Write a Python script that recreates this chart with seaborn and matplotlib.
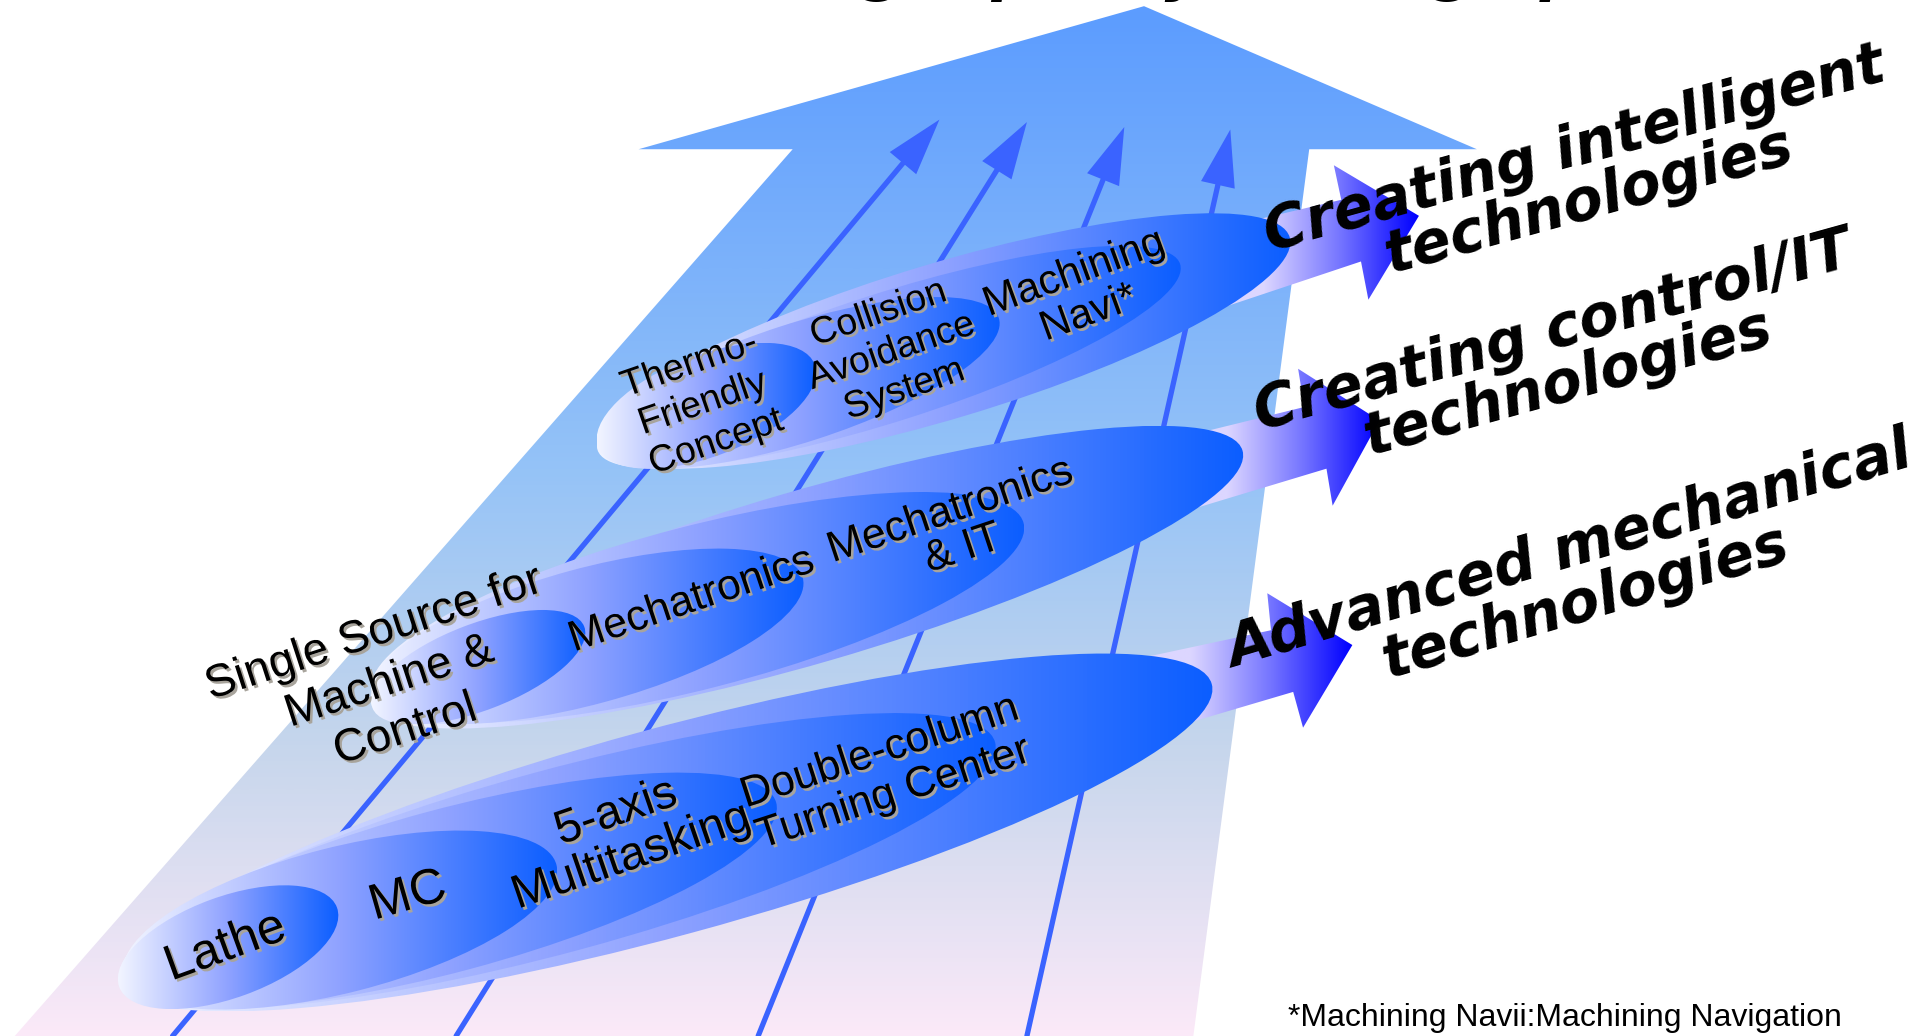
import numpy as np
import pandas as pd
import matplotlib
matplotlib.use("Agg")
import matplotlib.pyplot as plt
import seaborn as sns
from matplotlib.patches import Ellipse, Polygon
from matplotlib.colors import LinearSegmentedColormap
import matplotlib.patheffects as pe

sns.set_theme(style="white")
plt.rcParams['font.family'] = ['Liberation Sans', 'DejaVu Sans']

# ---------------- data (canvas units 1568 x 840, y downwards) ----------------
W, H = 1568, 840

# big background arrow outline
big_arrow_x = [928, 1198, 1062, 968, 12, 643, 518]
big_arrow_y = [5, 121, 121, 840, 840, 121, 121]

# thin upward arrows (start at bottom, tip at top)
line_x0 = [140, 370, 615, 833]
line_y0 = [840, 840, 840, 840]
line_x1 = [762, 833, 912, 998]
line_y1 = [97, 99, 103, 105]

# nested ellipses (group 3 = top, group 1 = bottom); drawn in this order
ell_group = [3, 3, 3, 3, 2, 2, 2, 2, 1, 1, 1, 1, 1]
ell_cx = [765.5, 721, 647.5, 573, 654.5, 566, 476.5, 388, 540, 453, 364, 276, 185]
ell_cy = [276.5, 289.5, 310.5, 329, 468, 492.5, 516, 541, 675, 698, 722, 746, 768]
ell_a = [293, 248, 171, 94, 368, 273, 181, 92, 459, 367, 275, 181, 94]
ell_b = [63, 52, 48, 41, 70, 66, 55, 35, 84, 74, 66, 59, 41]
ell_tilt = [16.7, 17.7, 17.9, 21, 16.2, 14.5, 15.2, 21, 15.2, 15.2, 15.0, 14.3, 20]

# right-hand gradient arrows (polygon vertices)
rarrow_x = [[960, 1088, 1082, 1151, 1110, 1104, 960],
            [940, 1058, 1053, 1119, 1081, 1076, 940],
            [900, 1031, 1028, 1097, 1057, 1049, 900]]
rarrow_y = [[192, 162, 134, 175, 243, 212, 260],
            [359, 330, 299, 341, 410, 380, 421],
            [539, 511, 481, 523, 590, 561, 605]]
rarrow_start = [1025, 995, 965]

# labels inside ellipses
lab_text = ["Lathe", "MC", "5-axis\nMultitasking", "Double-column\nTurning Center",
            "Single Source for\nMachine &\nControl", "Mechatronics", "Mechatronics\n& IT",
            "Thermo-\nFriendly\nConcept", "Collision\nAvoidance\nSystem", "Machining\nNavi*"]
lab_x = [183, 331, 506, 719, 316, 561, 776, 570, 723, 877]
lab_y = [768, 727, 677, 627, 553, 487, 430, 327, 285, 238]
lab_rot = [20, 16, 19, 18, 18, 18.5, 18.5, 19, 19, 20]
lab_size = [36, 36, 34, 31, 33, 31, 31, 27, 27, 30]
lab_spacing = [1.0, 1.0, 1.08, 1.12, 1.2, 1.0, 1.0, 1.18, 1.15, 1.08]

# right-hand labels
rlab_text = ["Creating intelligent\ntechnologies", "Creating control/IT\ntechnologies",
             "Advanced mechanical\ntechnologies"]
rlab_x = [1283, 1266, 1280]
rlab_y = [142, 290, 468]
rlab_rot = [15.5, 15.5, 16.5]

top_title = "High quality and high precision"
footnote = "*Machining Navii:Machining Navigation"

# ---------------- drawing ----------------
fig = plt.figure(figsize=(19.33, 10.36), dpi=100)
ax = fig.add_axes([0, 0, 1, 1])
ax.set_xlim(0, W)
ax.set_ylim(H, 0)
ax.axis('off')

bg_cmap = LinearSegmentedColormap.from_list(
    "bg", [(0, "#5c9cff"), (0.45, "#95c3f7"), (0.72, "#c6d6ec"), (1.0, "#fbe9f8")])
ell_cmap = LinearSegmentedColormap.from_list(
    "el", [(0, "#f2f5ff"), (0.5, "#8fa2ff"), (1.0, "#0b5eff")])
arr_cmap = LinearSegmentedColormap.from_list(
    "ar", [(0, "#dcd6ff"), (0.5, "#7474ff"), (1.0, "#0000ff")])


def grad_fill(patch, x0, x1, y0, y1, cmap, z, vertical=False, frac=None):
    n = 256
    v = np.linspace(0, 1, n)
    if frac is not None:
        v = np.clip((v - frac) / (1 - frac), 0, 1)
    arr = v.reshape(n, 1) if vertical else v.reshape(1, n)
    patch.set_facecolor('none')
    patch.set_edgecolor('none')
    ax.add_patch(patch)
    im = ax.imshow(arr, cmap=cmap, vmin=0, vmax=1, extent=[x0, x1, y1, y0],
                   aspect='auto', origin='upper', interpolation='bilinear', zorder=z)
    im.set_clip_path(patch)


# big arrow
big = Polygon(np.column_stack([big_arrow_x, big_arrow_y]), closed=True)
grad_fill(big, 0, W, 5, 840, bg_cmap, 1, vertical=True)

# thin arrows with seaborn lines + heads
line_col = "#3a63ff"
head_len, head_half = 46, 14
for x0, y0, x1, y1 in zip(line_x0, line_y0, line_x1, line_y1):
    d = np.array([x1 - x0, y1 - y0], float)
    u = d / np.linalg.norm(d)
    nrm = np.array([-u[1], u[0]])
    base = np.array([x1, y1]) - head_len * u
    seg = pd.DataFrame({"x": [x0, base[0]], "y": [y0, base[1]]})
    sns.lineplot(data=seg, x="x", y="y", ax=ax, color=line_col, linewidth=3.8,
                 sort=False, estimator=None, zorder=2, legend=False)
    head = Polygon([[x1, y1], base + head_half * nrm, base - head_half * nrm],
                   closed=True, facecolor=line_col, edgecolor='none', zorder=2)
    ax.add_patch(head)

# right arrows
for xs, ys, xs0 in zip(rarrow_x, rarrow_y, rarrow_start):
    poly = Polygon(np.column_stack([xs, ys]), closed=True)
    xmin, xmax = min(xs), max(xs)
    frac = (xs0 - xmin) / (xmax - xmin)
    grad_fill(poly, xmin, xmax, min(ys), max(ys), arr_cmap, 3, frac=frac)

# ellipses
for i, (cx, cy, a, b, t) in enumerate(zip(ell_cx, ell_cy, ell_a, ell_b, ell_tilt)):
    th = np.deg2rad(t)
    hw = np.sqrt((a * np.cos(th)) ** 2 + (b * np.sin(th)) ** 2)
    hh = np.sqrt((a * np.sin(th)) ** 2 + (b * np.cos(th)) ** 2)
    e = Ellipse((cx, cy), 2 * a, 2 * b, angle=-t)
    grad_fill(e, cx - hw, cx + hw, cy - hh, cy + hh, ell_cmap, 4 + i * 0.1)

# labels
shadow = [pe.SimplePatchShadow(offset=(1.8, -1.8), shadow_rgbFace="#a8a49c", alpha=1.0),
          pe.Normal()]
for s, x, y, r, fs, ls in zip(lab_text, lab_x, lab_y, lab_rot, lab_size, lab_spacing):
    ax.text(x, y, s, ha='center', va='center', rotation=r, rotation_mode='anchor',
            fontsize=fs, color='black', linespacing=ls, multialignment='center',
            zorder=20, path_effects=shadow)

for s, x, y, r in zip(rlab_text, rlab_x, rlab_y, rlab_rot):
    ax.text(x, y, s, ha='center', va='center', rotation=r, rotation_mode='anchor',
            fontsize=42, fontweight='bold', fontstyle='italic', family=['DejaVu Sans'],
            color='black', linespacing=0.92, multialignment='center', zorder=20)

ax.text(643, -9, top_title, ha='left', va='baseline', fontsize=43,
        fontweight='bold', fontstyle='italic', family=['DejaVu Sans'],
        color='black', zorder=20, clip_on=False)

ax.text(1045, 832, footnote, ha='left', va='baseline', fontsize=23,
        color='black', zorder=20)

ax.set_xlim(0, W)
ax.set_ylim(H, 0)
ax.axis('off')
fig.savefig("out.png", dpi=100)
